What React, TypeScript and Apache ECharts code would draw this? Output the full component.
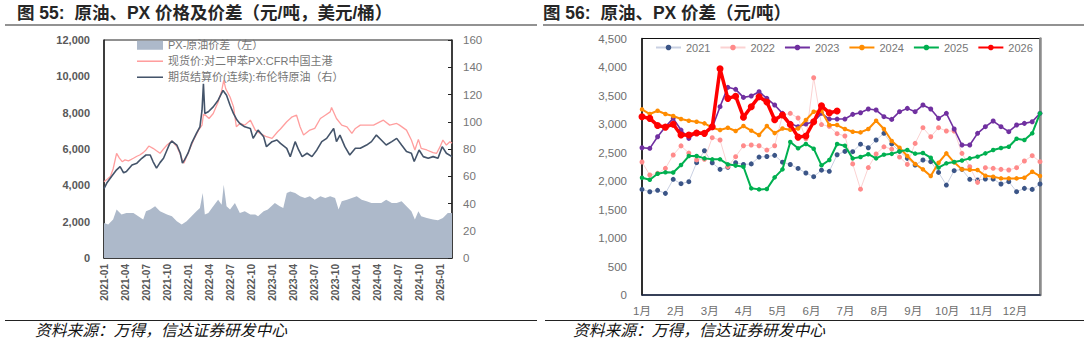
import React, { useEffect, useRef } from 'react';
import * as echarts from 'echarts';

// ---------- Figure 55 (month index from 2021-01) ----------
const spreadPoints: [number, number][] = [
  [0, 1933], [0.6, 1842], [1.3, 2116], [1.8, 2663], [2.5, 2389], [3.2, 2480], [4.2, 2480], [4.9, 2298],
  [5.6, 2116], [6.0, 2572], [6.6, 2663], [7.3, 2845], [8.0, 2572], [9.0, 2389], [9.7, 2298], [10.4, 2025],
  [11.1, 1842], [11.8, 2025], [12.5, 2298], [13.2, 2572], [13.7, 2754], [14.1, 3575], [14.4, 2389], [14.9, 2480],
  [15.6, 2845], [16.3, 3210], [16.8, 2936], [17.1, 4031], [17.5, 2845], [18.0, 2663], [18.7, 3028], [19.4, 2480],
  [20.1, 2572], [20.9, 2389], [21.6, 2389], [22.0, 2298], [22.8, 2572], [23.4, 2663], [24.4, 3028], [25.1, 2845],
  [25.6, 2750], [26.1, 3575], [26.6, 3666], [27.3, 3575], [28.0, 3393], [28.7, 3301], [29.4, 3393], [30.1, 3210],
  [30.9, 3393], [31.6, 3301], [32.3, 3393], [33.0, 3301], [33.5, 2663], [33.95, 3119], [34.7, 3210], [35.4, 3301],
  [36.1, 3393], [36.8, 3210], [37.5, 3119], [38.2, 3028], [38.9, 3028], [39.6, 3028], [40.3, 3210], [41.1, 3028],
  [41.8, 3028], [42.5, 3119], [43.2, 2845], [43.9, 2572], [44.4, 2116], [44.9, 2572], [45.3, 2298], [46.1, 2207],
  [47.0, 2116], [47.7, 2079], [48.4, 2207], [49.1, 2480], [49.7, 2480],
];

const pxPoints: [number, number][] = [
  [0, 4200], [0.5, 4350], [0.9, 4480], [1.3, 4900], [1.8, 5760], [2.2, 5500], [2.6, 5300], [3.0, 5400],
  [3.5, 5350], [4.2, 5490], [4.7, 5600], [5.1, 5670], [5.6, 5800], [6.0, 5946], [6.4, 6165], [7.0, 6037],
  [7.5, 5900], [8.0, 5764], [8.5, 6000], [9.0, 6220], [9.7, 6439], [10.4, 6130], [10.8, 5800], [11.1, 5490],
  [11.4, 5217], [12.0, 5764], [12.8, 6494], [13.5, 7040], [14.0, 7314], [14.2, 7900], [14.5, 7861], [15.0, 7680],
  [15.6, 7953], [16.3, 8591], [16.8, 9200], [17.1, 9777], [17.4, 9300], [18.0, 8865], [18.5, 8317], [18.9, 7223],
  [19.4, 7406], [20.1, 7314], [20.9, 7588], [21.6, 7040], [22.3, 6858], [23.2, 6676], [24.0, 6585], [24.8, 6950],
  [25.2, 7100], [26.1, 7500], [26.8, 7750], [27.5, 7860], [28.0, 7223], [28.5, 6767], [29.4, 7040], [30.1, 7132],
  [30.9, 7679], [31.6, 7861], [32.3, 8044], [32.5, 8281], [33.2, 7679], [33.95, 7314], [34.7, 7223], [35.4, 6858],
  [35.9, 7132], [36.6, 7314], [37.5, 7314], [38.5, 7314], [39.4, 7497], [39.9, 7588], [40.8, 7314], [41.8, 7405],
  [42.2, 7314], [43.2, 7040], [43.9, 6493], [44.4, 5946], [44.9, 6530], [45.3, 6037], [46.1, 5946], [47.0, 5800],
  [47.5, 5764], [48.0, 6129], [48.4, 6493], [48.9, 6220], [49.4, 6402], [49.7, 6311],
];

const brentPoints: [number, number][] = [
  [0, 51], [0.4, 55], [1.1, 60], [1.8, 64.7], [2.3, 67], [2.8, 62.5], [3.2, 63.5], [4.0, 68.3], [4.7, 69.6],
  [5.4, 73.2], [6.0, 75.6], [6.6, 75.6], [7.0, 70.8], [7.5, 66], [8.0, 70], [8.5, 73.2], [9.0, 79.3], [9.4, 84.1],
  [9.7, 85.8], [10.4, 82.9], [10.9, 76.9], [11.2, 69.6], [11.5, 72], [12.0, 76.9], [12.5, 84.1], [13.2, 91.4],
  [13.7, 96.3], [14.0, 108.5], [14.2, 127.9], [14.4, 106], [14.9, 107.3], [15.6, 110.9], [16.3, 115.8], [17.0, 123],
  [17.5, 119.4], [18.0, 112.1], [18.5, 106], [19.0, 101.2], [19.4, 98.7], [20.1, 96.3], [20.9, 95.1], [21.3, 87.8],
  [22.0, 93.9], [22.8, 89], [23.2, 81.7], [24.0, 85.4], [24.7, 86.6], [25.2, 84.1], [26.1, 80.5], [26.6, 74.4],
  [27.3, 85.4], [27.8, 79.3], [28.3, 74.4], [29.0, 76.9], [29.7, 74.4], [30.4, 79.3], [31.1, 85.4], [31.8, 87.8],
  [32.8, 95.1], [33.2, 85.4], [33.7, 90.2], [34.4, 81.7], [35.1, 75.6], [35.9, 80.5], [36.6, 80.5], [37.5, 82.9],
  [38.2, 85.4], [38.9, 90.2], [39.6, 86.6], [40.3, 82.9], [41.1, 85.4], [41.8, 87.8], [42.5, 82.9], [43.2, 78.1],
  [43.9, 76.9], [44.3, 70.8], [45.0, 79.3], [45.6, 74.4], [46.3, 73.2], [47.0, 74.4], [47.7, 73.2], [48.3, 81.7],
  [48.9, 76.9], [49.7, 74.4],
];

const fig55Names = ['PX-原油价差（左）', '现货价:对二甲苯PX:CFR中国主港', '期货结算价(连续):布伦特原油（右）'];

// ---------- Figure 56 (weekly, week index 0..51) ----------
const yearNames = ['2021', '2022', '2023', '2024', '2025', '2026'];
const monthNames = ['1月', '2月', '3月', '4月', '5月', '6月', '7月', '8月', '9月', '10月', '11月', '12月'];

const y2021 = [1853, 1812, 1836, 1783, 2029, 1953, 1988, 2321, 2530, 2320, 2204, 2240, 2320, 2290, 2300, 2420, 2430, 2450, 2330, 2290,
  2220, 2140, 2076, 2190, 2170, 2460, 2520, 2514, 2646, 2584, 2719, 2836, 2650, 2520, 2397, 2280, 2368, 2339, 2150, 1929,
  2181, 2204, 2029, 2017, 2035, 2035, 1947, 1988, 1813, 1871, 1853, 1947];
const y2022 = [2333, 2105, 2134, 2222, 2456, 2616, 2490, 2370, 2380, 2760, 2719, 2251, 2427, 2619, 2631, 2619, 2543, 2619, 3150, 3187,
  3105, 2740, 3812, 2990, 2960, 2830, 2790, 2300, 1856, 2236, 2473, 2600, 2560, 2420, 2292, 2660, 2935, 2777, 2935, 2877,
  2877, 2485, 2250, 1976, 2234, 2222, 2204, 2193, 2234, 2351, 2444, 2339];
const y2023 = [2584, 2573, 2777, 2953, 3099, 2894, 2748, 2853, 2836, 2935, 3304, 3643, 3608, 3467, 3491, 3567, 3450, 3333, 3187, 3011,
  2953, 3000, 3040, 3187, 3087, 3087, 3087, 3169, 3198, 3263, 3245, 3128, 3081, 3216, 3274, 3216, 3333, 3263, 3099, 3187,
  2912, 2631, 2631, 2836, 2953, 3052, 2953, 2865, 2982, 3011, 3040, 3187];
const y2024 = [3257, 3175, 3233, 3175, 3140, 3087, 3058, 3040, 3011, 2935, 2894, 2935, 2877, 2964, 2883, 2807, 2964, 2840, 2920, 2900,
  2920, 3070, 3216, 3228, 2982, 2982, 2912, 2865, 2853, 2912, 3058, 2912, 2701, 2584, 2438, 2298, 2204, 2087, 2320, 2485,
  2327, 2204, 2198, 2193, 2093, 2076, 2046, 2046, 2046, 2058, 2163, 2087];
const y2025 = [2058, 2023, 2128, 2152, 2149, 2280, 2438, 2438, 2397, 2380, 2380, 2292, 2270, 2250, 1871, 1853, 1859, 2064, 2204, 2684,
  2573, 2650, 2567, 2275, 2368, 2650, 2620, 2397, 2420, 2470, 2397, 2462, 2476, 2520, 2543, 2480, 2490, 2409, 2234, 2310,
  2333, 2360, 2397, 2427, 2485, 2543, 2578, 2602, 2740, 2719, 2836, 3187];
const y2026 = [3128, 3099, 2975, 2945, 2997, 2807, 2807, 2842, 2836, 2953, 3970, 3450, 3488, 3120, 3304, 3479, 3386, 3075, 3157, 2990,
  2770, 2790, 3040, 3318, 3195, 3228];

const yearValues = [y2021, y2022, y2023, y2024, y2025, y2026];
const yearStyles = [
  { line: '#c9d0e2', dot: '#3b5587', width: 1, size: 5 },
  { line: '#fbd2d2', dot: '#ff8a8a', width: 1, size: 5 },
  { line: '#7030a0', dot: '#7030a0', width: 1.6, size: 5 },
  { line: '#ff8c00', dot: '#ff8c00', width: 2, size: 4.5 },
  { line: '#00b050', dot: '#00b050', width: 2, size: 4.5 },
  { line: '#ff0000', dot: '#ff0000', width: 3.5, size: 7 },
];

const NUM = "'Liberation Sans', Arial, sans-serif";
const MIX = "'Liberation Sans', 'Noto Sans CJK SC', sans-serif";
const CJK = "'Noto Sans CJK SC', sans-serif";
const DAYS_PER_MONTH = 365 / 12;
const LINE_ICON = 'path://M0,0L100,0L100,6L0,6Z';

const fmtThousands = (v: number) => v.toLocaleString('en-US');
const fmtMonthIndex = (v: number) => {
  const m = Math.round(v);
  if (Math.abs(v - m) > 1e-6 || m % 3 !== 0) return '';
  return `${2021 + Math.floor(m / 12)}-${String((m % 12) + 1).padStart(2, '0')}`;
};

function buildOption() {
  const yearSeries = yearNames.map((name, k) => ({
    name,
    type: 'line',
    xAxisIndex: 1,
    yAxisIndex: 2,
    data: yearValues[k].map((v, i) => [i * 7, v]),
    symbol: 'circle',
    symbolSize: yearStyles[k].size,
    lineStyle: { color: yearStyles[k].line, width: yearStyles[k].width },
    itemStyle: { color: yearStyles[k].dot },
    z: 2 + k,
  }));

  return {
    animation: false,
    backgroundColor: '#ffffff',
    grid: [
      { left: 104, top: 40, width: 348, height: 218, show: true, borderColor: '#222', borderWidth: 1 },
      { left: 642, top: 38.5, width: 398, height: 256.5, show: true, borderColor: '#111', borderWidth: 1 },
    ],
    xAxis: [
      {
        type: 'value', gridIndex: 0, min: 0, max: 49.7, interval: 3,
        axisLine: { show: true, lineStyle: { color: '#222', width: 1.5 } },
        axisTick: { show: true, inside: true, length: 4, lineStyle: { color: '#222' } },
        splitLine: { show: false },
        axisLabel: {
          rotate: 90, margin: 6, showMaxLabel: false, formatter: fmtMonthIndex,
          color: '#595959', fontSize: 10, fontWeight: 'bold', fontFamily: NUM,
        },
      },
      {
        type: 'value', gridIndex: 1, min: 0, max: 357, interval: DAYS_PER_MONTH,
        axisLine: { show: true, lineStyle: { color: '#1c2a4a', width: 1.5 } },
        axisTick: { show: false },
        splitLine: { show: false },
        axisLabel: {
          margin: 10, showMaxLabel: false,
          formatter: (v: number) => monthNames[Math.round(v / DAYS_PER_MONTH)] ?? '',
          color: '#6e6e6e', fontSize: 11.5, fontFamily: MIX,
        },
      },
    ],
    yAxis: [
      {
        type: 'value', gridIndex: 0, position: 'left', min: 0, max: 12000, interval: 2000,
        axisLine: { show: true, lineStyle: { color: '#222', width: 1.5 } },
        axisTick: { show: false }, splitLine: { show: false },
        axisLabel: { margin: 14, formatter: fmtThousands, color: '#595959', fontSize: 11, fontWeight: 'bold', fontFamily: NUM },
      },
      {
        type: 'value', gridIndex: 0, position: 'right', min: 0, max: 160, interval: 20,
        axisLine: { show: true, lineStyle: { color: '#222', width: 1.5 } },
        axisTick: { show: true, inside: true, length: 4, lineStyle: { color: '#222' } },
        splitLine: { show: false },
        axisLabel: { margin: 11, color: '#767676', fontSize: 11.5, fontFamily: NUM },
      },
      {
        type: 'value', gridIndex: 1, position: 'left', min: 0, max: 4500, interval: 500,
        axisLine: { show: true, lineStyle: { color: '#111', width: 1.5 } },
        axisTick: { show: false }, splitLine: { show: false },
        axisLabel: { margin: 15, formatter: fmtThousands, color: '#6e6e6e', fontSize: 11.5, fontFamily: NUM },
      },
      {
        type: 'value', gridIndex: 1, position: 'right', min: 0, max: 4500, interval: 500,
        axisLine: { show: true, lineStyle: { color: '#8c8c8c', width: 2.5 } },
        axisTick: { show: false }, splitLine: { show: false }, axisLabel: { show: false },
      },
    ],
    legend: [
      {
        data: [
          { name: fig55Names[0], icon: 'rect' },
          { name: fig55Names[1], icon: LINE_ICON },
          { name: fig55Names[2], icon: LINE_ICON },
        ],
        orient: 'vertical', left: 132, top: 34, itemWidth: 26, itemHeight: 9, itemGap: 3.5,
        textStyle: { fontSize: 11, color: '#767676', fontFamily: MIX, lineHeight: 12.5 },
      },
      {
        data: yearNames, orient: 'horizontal', left: 650, top: 37, itemWidth: 25, itemHeight: 7, itemGap: 9,
        textStyle: { fontSize: 11, color: '#767676', fontFamily: NUM },
      },
    ],
    series: [
      {
        name: fig55Names[0], type: 'line', xAxisIndex: 0, yAxisIndex: 0, data: spreadPoints,
        symbol: 'none', lineStyle: { width: 0, color: '#adb9ca' }, areaStyle: { color: '#adb9ca', opacity: 1 },
        itemStyle: { color: '#adb9ca' }, z: 1,
      },
      {
        name: fig55Names[1], type: 'line', xAxisIndex: 0, yAxisIndex: 0, data: pxPoints,
        symbol: 'none', lineStyle: { width: 1.3, color: '#ff9e9e' }, itemStyle: { color: '#ff9e9e' }, z: 2,
      },
      {
        name: fig55Names[2], type: 'line', xAxisIndex: 0, yAxisIndex: 1, data: brentPoints,
        symbol: 'none', lineStyle: { width: 1.6, color: '#44546a' }, itemStyle: { color: '#44546a' }, z: 3,
      },
      ...yearSeries,
    ],
    graphic: [
      { type: 'text', left: 17, top: 4, style: { text: '图 55:  原油、PX 价格及价差（元/吨，美元/桶）', fontSize: 17.5, fontWeight: 'bold', fill: '#262626', fontFamily: MIX } },
      { type: 'text', left: 543, top: 4, style: { text: '图 56:  原油、PX 价差（元/吨）', fontSize: 17.5, fontWeight: 'bold', fill: '#262626', fontFamily: MIX } },
      { type: 'line', shape: { x1: 5, y1: 25, x2: 537, y2: 25 }, style: { stroke: '#6e6e6e', lineWidth: 1.5 } },
      { type: 'line', shape: { x1: 543, y1: 25, x2: 1084, y2: 25 }, style: { stroke: '#6e6e6e', lineWidth: 1.5 } },
      { type: 'line', shape: { x1: 5, y1: 320.5, x2: 537, y2: 320.5 }, style: { stroke: '#222', lineWidth: 1 } },
      { type: 'line', shape: { x1: 545, y1: 320.5, x2: 1084, y2: 320.5 }, style: { stroke: '#222', lineWidth: 1 } },
      { type: 'text', left: 35, top: 322, style: { text: '资料来源：万得，信达证券研发中心', fontSize: 15.75, fontStyle: 'italic', fill: '#111', fontFamily: CJK } },
      { type: 'text', left: 573, top: 322, style: { text: '资料来源：万得，信达证券研发中心', fontSize: 15.75, fontStyle: 'italic', fill: '#111', fontFamily: CJK } },
    ],
  };
}

export default function App() {
  const ref = useRef<HTMLDivElement>(null);
  useEffect(() => {
    if (!ref.current) return;
    const chart = echarts.init(ref.current, null, { renderer: 'svg' });
    chart.setOption(buildOption() as any);
    return () => chart.dispose();
  }, []);
  return <div ref={ref} style={{ position: 'absolute', left: 0, top: 0, width: 1088, height: 345, background: '#fff' }} />;
}
